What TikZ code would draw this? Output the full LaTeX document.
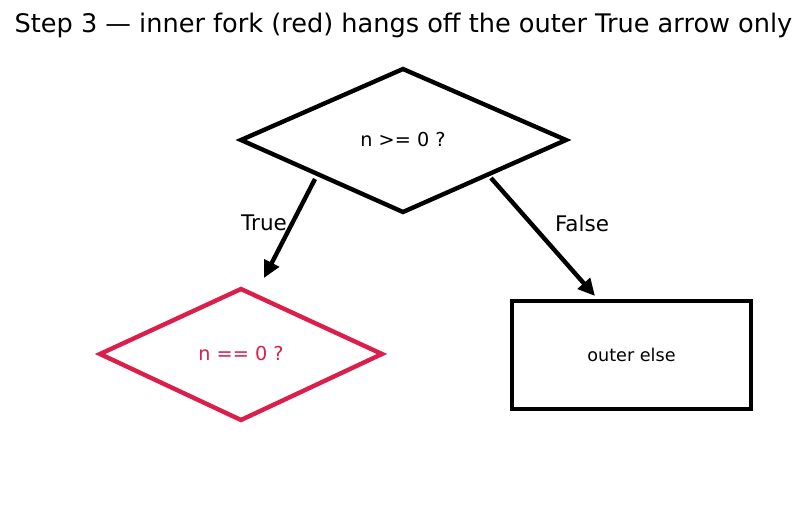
\documentclass[tikz,border=0pt]{standalone}
\usepackage{fontspec}
\setmainfont{DejaVu Sans}
\usetikzlibrary{shapes.geometric,arrows.meta}
\definecolor{inner}{RGB}{220,30,75}
\begin{document}
\begin{tikzpicture}[x=1pt,y=-1pt,
  box/.style={draw,line width=4.4pt,line join=miter},
  arr/.style={line width=4.4pt,-{Triangle[length=17pt,width=16pt]}},
  lbl/.style={font=\fontsize{21.5}{25}\selectfont},
  ntext/.style={font=\fontsize{19.2}{23}\selectfont}]
\useasboundingbox (0,0) rectangle (807,512);
\node[font=\fontsize{25.6}{30}\selectfont] (title) at (403.5,25) {Step 3 — inner fork (red) hangs off the outer True arrow only};
% outer diamond
\coordinate (oL) at (241,140); \coordinate (oR) at (566,140);
\coordinate (oT) at (403,69); \coordinate (oB) at (403,212);
\draw[box] (oL) -- (oT) -- (oR) -- (oB) -- cycle;
\node[ntext] (outer) at (403,140) {n >= 0 ?};
% inner diamond
\coordinate (iL) at (100,354); \coordinate (iR) at (382,354);
\coordinate (iT) at (241,289); \coordinate (iB) at (241,420);
\draw[box,draw=inner] (iL) -- (iT) -- (iR) -- (iB) -- cycle;
\node[ntext,text=inner] (innerq) at (241,354) {n == 0 ?};
% else box
\node[box,minimum width=239pt,minimum height=108pt,inner sep=0pt,outer sep=0pt,font=\fontsize{17.6}{21}\selectfont] (else) at (631.5,355) {outer else};
% arrows
\coordinate (tS) at (315,179); \coordinate (tE) at (264,278);
\coordinate (fS) at (491,178); \coordinate (fE) at (595,296);
\draw[arr] (tS) -- (tE);
\draw[arr] (fS) -- (fE);
\node[lbl] (tl) at (264,223) {True};
\node[lbl] (fl) at (582,223) {False};
\end{tikzpicture}
\end{document}
